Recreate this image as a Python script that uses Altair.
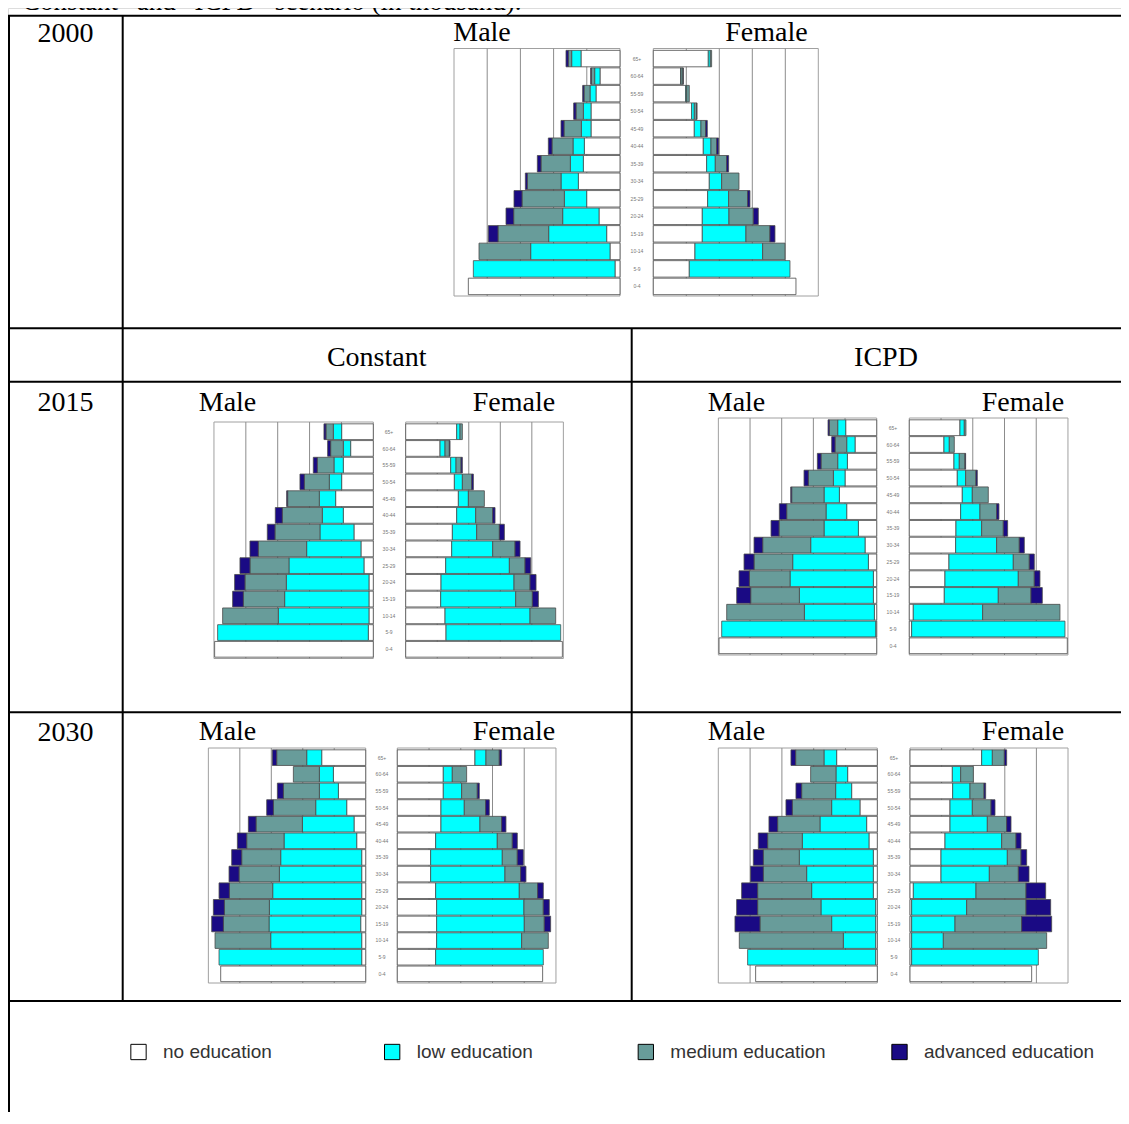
import altair as alt
import pandas as pd

# ---------------- data (readings from the picture, arbitrary units per panel) ----------------
AGES = ["0-4", "5-9", "10-14", "15-19", "20-24", "25-29", "30-34",
        "35-39", "40-44", "45-49", "50-54", "55-59", "60-64", "65+"]
EDU = ["no education", "low education", "medium education", "advanced education"]
EDU_COLORS = ["#ffffff", "#00ffff", "#689c9a", "#1a0a84"]

# each list: age groups from 0-4 (bottom) up to 65+ (top)
M2000_NO = [455, 15, 30, 40, 63, 100, 125, 110, 107, 87, 87, 72, 60, 117]
M2000_LOW = [0, 425, 238, 174, 109, 67, 52, 39, 34, 29, 23, 18, 16, 28]
M2000_MED = [0, 0, 155, 152, 147, 127, 101, 88, 63, 52, 22, 18, 10, 10]
M2000_ADV = [0, 0, 0, 29, 23, 24, 6, 11, 11, 9, 7, 4, 2, 7]

F2000_NO = [428, 108, 125, 147, 147, 163, 168, 160, 150, 123, 115, 97, 82, 165]
F2000_LOW = [0, 302, 203, 131, 80, 63, 37, 26, 23, 20, 8, 3, 1, 6]
F2000_MED = [0, 0, 67, 72, 73, 57, 52, 34, 17, 14, 7, 8, 6, 4]
F2000_ADV = [0, 0, 0, 15, 15, 7, 0, 6, 6, 5, 1, 0, 1, 0]

M2015C_NO = [476, 15, 13, 13, 13, 28, 37, 58, 90, 113, 95, 90, 68, 95]
M2015C_LOW = [0, 452, 272, 253, 248, 225, 163, 102, 63, 49, 37, 28, 22, 25]
M2015C_MED = [0, 0, 167, 124, 124, 117, 145, 135, 120, 95, 75, 50, 38, 22]
M2015C_ADV = [0, 0, 0, 32, 31, 30, 25, 23, 21, 3, 13, 12, 9, 6]

F2015C_NO = [470, 121, 118, 105, 106, 120, 138, 140, 153, 158, 146, 135, 103, 153]
F2015C_LOW = [0, 344, 255, 225, 219, 191, 123, 73, 57, 30, 24, 16, 15, 10]
F2015C_MED = [0, 0, 77, 50, 48, 47, 67, 68, 51, 48, 28, 15, 13, 7]
F2015C_ADV = [0, 0, 0, 18, 18, 17, 15, 15, 7, 0, 5, 4, 2, 0]

M2015I_NO = [473, 3, 7, 10, 10, 25, 35, 55, 90, 112, 95, 88, 65, 93]
M2015I_LOW = [0, 462, 210, 222, 250, 227, 163, 103, 62, 46, 35, 29, 25, 24]
M2015I_MED = [0, 0, 233, 146, 122, 116, 144, 135, 118, 97, 75, 50, 35, 25]
M2015I_ADV = [0, 0, 0, 42, 31, 30, 26, 24, 22, 3, 13, 11, 10, 4]

F2015I_NO = [474, 7, 12, 105, 107, 119, 139, 140, 154, 159, 144, 134, 104, 152]
F2015I_LOW = [0, 460, 208, 162, 220, 193, 123, 77, 58, 30, 25, 16, 16, 13]
F2015I_MED = [0, 0, 232, 98, 48, 48, 68, 65, 50, 48, 31, 17, 15, 5]
F2015I_ADV = [0, 0, 0, 34, 17, 15, 15, 13, 7, 0, 4, 2, 0, 0]

M2030C_NO = [435, 12, 12, 15, 12, 12, 12, 12, 27, 35, 57, 82, 97, 132]
M2030C_LOW = [0, 428, 273, 275, 277, 267, 247, 243, 218, 155, 93, 57, 42, 45]
M2030C_MED = [0, 0, 167, 137, 135, 130, 121, 117, 112, 139, 127, 108, 78, 90]
M2030C_ADV = [0, 0, 0, 35, 33, 31, 30, 30, 28, 23, 20, 18, 0, 13]

F2030C_NO = [436, 115, 118, 118, 118, 115, 100, 100, 115, 131, 131, 138, 138, 233]
F2030C_LOW = [0, 323, 255, 263, 262, 251, 223, 215, 185, 117, 70, 55, 27, 33]
F2030C_MED = [0, 0, 80, 60, 58, 55, 47, 45, 45, 65, 64, 47, 43, 40]
F2030C_ADV = [0, 0, 0, 19, 18, 17, 16, 18, 15, 13, 11, 6, 0, 7]

M2030I_NO = [365, 5, 5, 5, 5, 12, 12, 12, 25, 32, 52, 77, 89, 122]
M2030I_LOW = [0, 384, 97, 132, 164, 185, 200, 222, 200, 140, 85, 48, 35, 38]
M2030I_MED = [0, 0, 312, 215, 190, 162, 130, 108, 104, 127, 118, 102, 76, 85]
M2030I_ADV = [0, 0, 0, 75, 63, 48, 38, 30, 28, 26, 19, 17, 0, 14]

F2030I_NO = [365, 5, 5, 5, 5, 10, 93, 93, 105, 120, 120, 128, 127, 215]
F2030I_LOW = [0, 380, 95, 130, 165, 188, 145, 199, 170, 112, 67, 52, 25, 32]
F2030I_MED = [0, 0, 310, 200, 178, 150, 87, 41, 43, 58, 56, 42, 38, 36]
F2030I_ADV = [0, 0, 0, 90, 74, 59, 32, 17, 15, 13, 12, 5, 0, 7]

# ---------------- layout (page pixel coordinates) ----------------
OFF = 8  # page margin
SERIF = "Liberation Serif"
SANS = "Liberation Sans"

# (series, axis extent, centre x, top y, bottom y, is_male)
HALVES = [
    ((M2000_NO, M2000_LOW, M2000_MED, M2000_ADV), 498, 620.0, 48.5, 296.0, True),
    ((F2000_NO, F2000_LOW, F2000_MED, F2000_ADV), 495, 653.3, 48.5, 296.0, False),
    ((M2015C_NO, M2015C_LOW, M2015C_MED, M2015C_ADV), 478, 373.3, 422.0, 658.5, True),
    ((F2015C_NO, F2015C_LOW, F2015C_MED, F2015C_ADV), 473, 405.7, 422.0, 658.5, False),
    ((M2015I_NO, M2015I_LOW, M2015I_MED, M2015I_ADV), 475, 876.7, 418.0, 655.0, True),
    ((F2015I_NO, F2015I_LOW, F2015I_MED, F2015I_ADV), 476, 909.3, 418.0, 655.0, False),
    ((M2030C_NO, M2030C_LOW, M2030C_MED, M2030C_ADV), 472, 365.7, 748.0, 983.0, True),
    ((F2030C_NO, F2030C_LOW, F2030C_MED, F2030C_ADV), 476, 397.3, 748.0, 983.0, False),
    ((M2030I_NO, M2030I_LOW, M2030I_MED, M2030I_ADV), 477, 877.3, 748.0, 983.0, True),
    ((F2030I_NO, F2030I_LOW, F2030I_MED, F2030I_ADV), 474, 910.0, 748.0, 983.0, False),
]
# age label column: (x centre, top y, bottom y)
AGE_COLS = [(637, 48.5, 296.0), (389, 422.0, 658.5), (893, 418.0, 655.0),
            (382, 748.0, 983.0), (894, 748.0, 983.0)]


def yscale(top, bottom):
    return alt.Scale(domain=AGES[::-1], range=[top - OFF + 1.5, bottom - OFF - 1.0],
                     paddingInner=0.06, paddingOuter=0.02)


def half(series, W, cx, top, bottom, male):
    rows = []
    for k, (edu, vals) in enumerate(zip(EDU, series)):
        for age, v in zip(AGES, vals):
            if v > 0:
                rows.append({"age": age, "edu": edu, "v": v, "o": k})
    df = pd.DataFrame(rows)
    c = cx - OFF
    w = W / 3.0
    rng = [c, c - w] if male else [c, c + w]
    xs = alt.Scale(domain=[0, W], range=rng, nice=False, zero=True)
    frame = alt.Chart(pd.DataFrame({"a": [0], "b": [W]})).mark_rect(
        fill="white", stroke="#a0a0a0", strokeWidth=1
    ).encode(
        x=alt.X("a:Q", scale=xs, axis=None), x2="b:Q",
        y=alt.value(top - OFF), y2=alt.value(bottom - OFF),
    )
    grid = alt.Chart(pd.DataFrame({"g": [W * k / 5 for k in range(1, 5)]})).mark_rule(
        color="#8c8c8c", strokeWidth=1
    ).encode(
        x=alt.X("g:Q", scale=xs, axis=None),
        y=alt.value(top - OFF), y2=alt.value(bottom - OFF),
    )
    bars = alt.Chart(df).mark_bar(stroke="#4a4a4a", strokeWidth=0.8).encode(
        x=alt.X("v:Q", stack="zero", scale=xs, axis=None),
        y=alt.Y("age:N", scale=yscale(top, bottom), axis=None),
        color=alt.Color("edu:N", scale=alt.Scale(domain=EDU, range=EDU_COLORS), legend=None),
        order=alt.Order("o:Q", sort="ascending"),
    )
    return [frame, grid, bars]


layers = []

# table lines
W_PAGE = 1129
LINES = pd.DataFrame([
    {"x": 7.5, "x2": W_PAGE, "y": 15.7, "y2": 15.7},
    {"x": 7.5, "x2": W_PAGE, "y": 328.3, "y2": 328.3},
    {"x": 7.5, "x2": W_PAGE, "y": 381.7, "y2": 381.7},
    {"x": 7.5, "x2": W_PAGE, "y": 712.3, "y2": 712.3},
    {"x": 7.5, "x2": W_PAGE, "y": 1001.0, "y2": 1001.0},
    {"x": 9.0, "x2": 9.0, "y": 15.7, "y2": 1124.0},
    {"x": 122.7, "x2": 122.7, "y": 15.7, "y2": 1001.0},
    {"x": 631.7, "x2": 631.7, "y": 328.3, "y2": 1001.0},
])
for col in ["x", "x2", "y", "y2"]:
    LINES[col] = LINES[col] - OFF
layers.append(
    alt.Chart(LINES).mark_rule(color="black", strokeWidth=2).encode(
        x=alt.X("x:Q", scale=None), x2="x2:Q", y=alt.Y("y:Q", scale=None), y2="y2:Q"
    )
)

# pyramids
for h in HALVES:
    layers.extend(half(*h))

# age labels
for ax, top, bottom in AGE_COLS:
    layers.append(
        alt.Chart(pd.DataFrame({"age": AGES})).mark_text(
            fontSize=5, font=SANS, color="#777777", align="center", baseline="middle"
        ).encode(
            x=alt.value(ax - OFF),
            y=alt.Y("age:N", scale=yscale(top, bottom), axis=None),
            text="age:N",
        )
    )

# headings
HEADINGS = pd.DataFrame([
    {"t": "2000", "x": 65.5, "y": 42},
    {"t": "Male", "x": 482, "y": 41},
    {"t": "Female", "x": 766.5, "y": 41},
    {"t": "Constant", "x": 376.7, "y": 366},
    {"t": "ICPD", "x": 886, "y": 366},
    {"t": "2015", "x": 65.5, "y": 411},
    {"t": "Male", "x": 227.5, "y": 411},
    {"t": "Female", "x": 514, "y": 411},
    {"t": "Male", "x": 736.5, "y": 411},
    {"t": "Female", "x": 1023, "y": 411},
    {"t": "2030", "x": 65.5, "y": 741},
    {"t": "Male", "x": 227.5, "y": 740},
    {"t": "Female", "x": 514, "y": 740},
    {"t": "Male", "x": 736.5, "y": 740},
    {"t": "Female", "x": 1023, "y": 740},
])
HEADINGS["x"] = HEADINGS["x"] - OFF
HEADINGS["y"] = HEADINGS["y"] - OFF
layers.append(
    alt.Chart(HEADINGS).mark_text(
        font=SERIF, fontSize=28, color="black", align="center", baseline="alphabetic"
    ).encode(x=alt.X("x:Q", scale=None), y=alt.Y("y:Q", scale=None), text="t:N")
)

# caption line (cut off at the top of the page, as in the scan)
layers.append(
    alt.Chart(pd.DataFrame({"t": ["Constant\u201d and \u201cICPD\u201d scenario (in thousand)."]})).mark_text(
        font=SERIF, fontSize=27, color="black", align="left", baseline="alphabetic"
    ).encode(x=alt.value(22 - OFF), y=alt.value(10 - OFF), text="t:N")
)

# legend row
LEG = pd.DataFrame({"edu": EDU})
leg_x = alt.Scale(type="point", domain=EDU, range=[138.5 - OFF, 899.5 - OFF], padding=0)
layers.append(
    alt.Chart(LEG).mark_square(size=235, filled=True, stroke="black", strokeWidth=1, opacity=1).encode(
        x=alt.X("edu:N", scale=leg_x, axis=None),
        y=alt.value(1052 - OFF),
        color=alt.Color("edu:N", scale=alt.Scale(domain=EDU, range=EDU_COLORS), legend=None),
    )
)
layers.append(
    alt.Chart(LEG).mark_text(
        font=SANS, fontSize=19, color="#333333", align="left", baseline="middle", dx=24.5
    ).encode(
        x=alt.X("edu:N", scale=leg_x, axis=None),
        y=alt.value(1052 - OFF),
        text="edu:N",
    )
)

chart = alt.layer(*layers).resolve_scale(
    x="independent", y="independent", color="independent"
).properties(
    width=1113, height=1104, autosize=alt.AutoSizeParams(type="none"), padding=0
).configure_view(stroke=None).configure(background="white")

chart.save("out.html", embed_options={"renderer": "svg", "actions": False})
